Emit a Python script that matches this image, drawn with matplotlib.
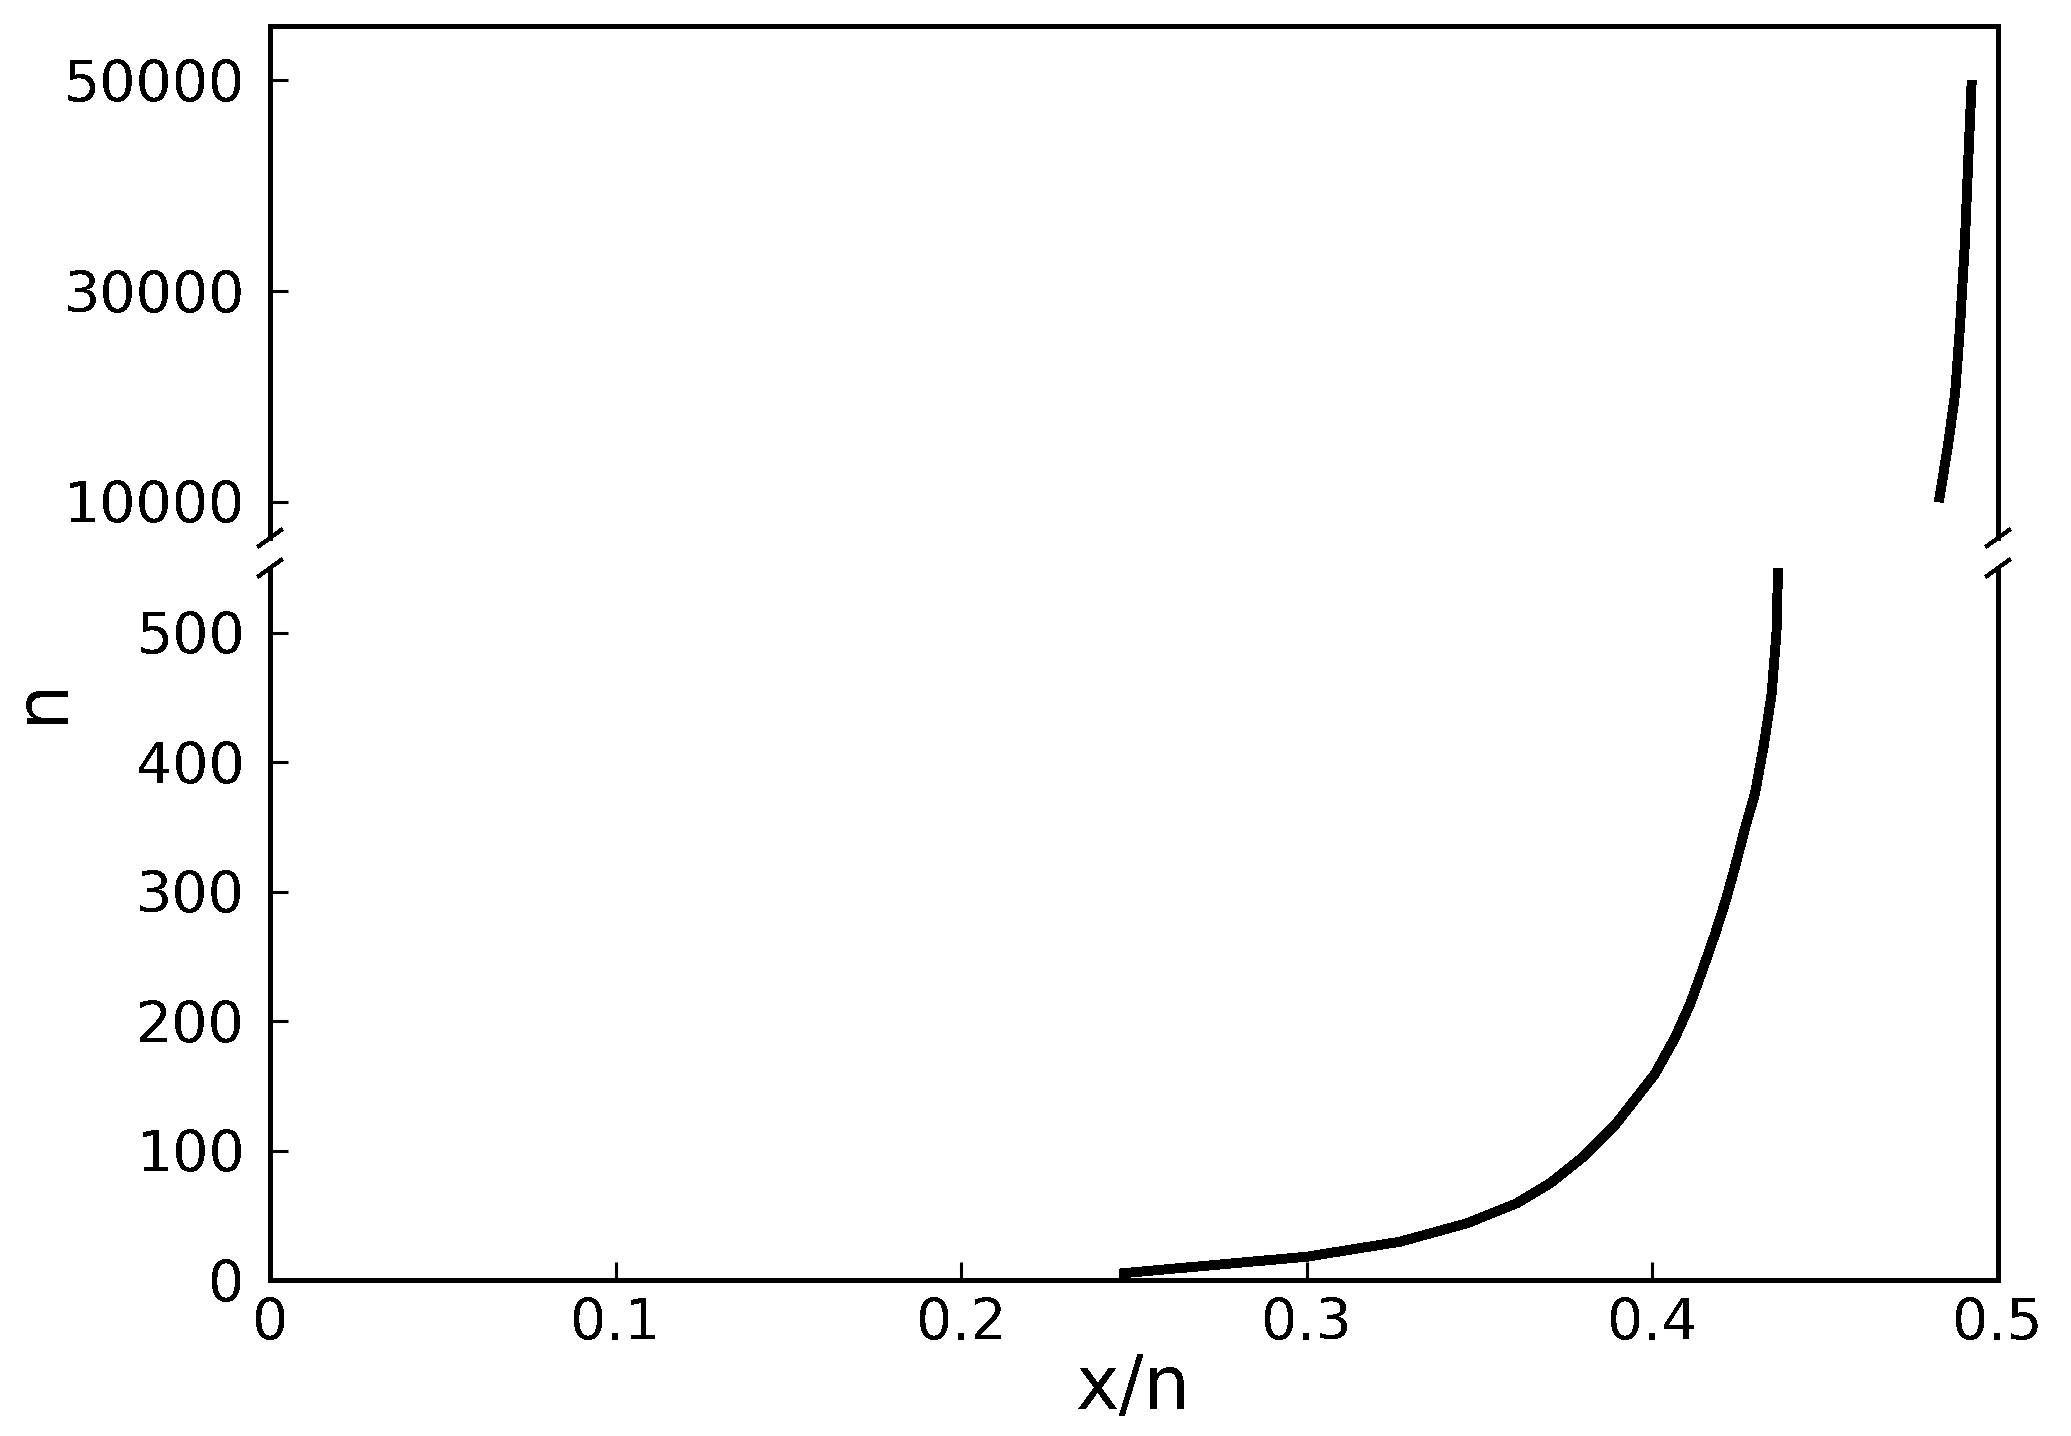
import matplotlib
matplotlib.use('Agg')
import matplotlib.pyplot as plt
import numpy as np

# data (x/n , n)
low_x = [0.2458, 0.3000, 0.3270, 0.3463, 0.3607, 0.3704, 0.3800, 0.3892,
         0.4007, 0.4065, 0.4109, 0.4147, 0.4181, 0.4212, 0.4239, 0.4269,
         0.4297, 0.4323, 0.4345, 0.4359, 0.4405]
low_n = [5, 18, 29.6, 43.8, 59.2, 74.7, 95.2, 119.7,
         159, 187, 213, 241, 267, 293, 319, 350,
         376, 414, 453, 500, 1000]

high_x = [0.4829, 0.4856, 0.4876, 0.4890, 0.4904, 0.4914, 0.4924]
high_n = [10000, 15500, 20300, 26600, 34500, 42500, 50000]

xticks = [0, 0.1, 0.2, 0.3, 0.4, 0.5]
xticklabels = ['0', '0.1', '0.2', '0.3', '0.4', '0.5']
low_yticks = [0, 100, 200, 300, 400, 500]
high_yticks = [10000, 30000, 50000]

plt.rcParams['font.family'] = 'DejaVu Sans'
plt.rcParams['lines.antialiased'] = False
plt.rcParams['patch.antialiased'] = False
plt.rcParams['text.antialiased'] = False

W, H = 2071, 1436
fig = plt.figure(figsize=(W/100., H/100.), dpi=100)

left, right = 270./W, 1998./W
bot = 1280.
ax_lo = fig.add_axes([left, 1-bot/H, right-left, (bot-568)/H])
ax_hi = fig.add_axes([left, 1-538./H, right-left, (538-25.7)/H])

lw_line = 6.4
for ax in (ax_lo, ax_hi):
    for s in ax.spines.values():
        s.set_linewidth(2.4)
        s.set_antialiased(False)
    ax.set_xlim(0, 0.5)
    ax.tick_params(axis='both', direction='in', length=13, width=2.2,
                   labelsize=41, right=False, top=False)
    ax.tick_params(axis='y', pad=18)
    ax.tick_params(axis='x', pad=12)

ax_lo.plot(low_x, low_n, color='black', lw=lw_line, solid_capstyle='butt')
ax_lo.set_ylim(0, 550)
ax_lo.set_yticks(low_yticks)
ax_lo.set_yticklabels([str(v) for v in low_yticks])
ax_lo.set_xticks(xticks)
ax_lo.set_xticklabels(xticklabels)
ax_lo.spines['top'].set_visible(False)

ax_hi.plot(high_x, high_n, color='black', lw=lw_line, solid_capstyle='butt')
ax_hi.set_ylim(6550, 55200)
ax_hi.set_yticks(high_yticks)
ax_hi.set_yticklabels([str(v) for v in high_yticks])
ax_hi.set_xticks([])
ax_hi.spines['bottom'].set_visible(False)

# break marks
dx, dy = 11./W, 8./H
for xb in (left, right):
    for yb in (1-538./H, 1-568./H):
        fig.add_artist(plt.Line2D([xb-dx, xb+dx], [yb-dy, yb+dy], color='black',
                                  lw=2.2, transform=fig.transFigure))

fig.text((1133.)/W, 1-1388./H, 'x/n', fontsize=53, ha='center', va='center')
fig.text(42./W, 1-700./H, 'n', fontsize=53, ha='center', va='center', rotation=90)

fig.savefig('out.png', dpi=100)
